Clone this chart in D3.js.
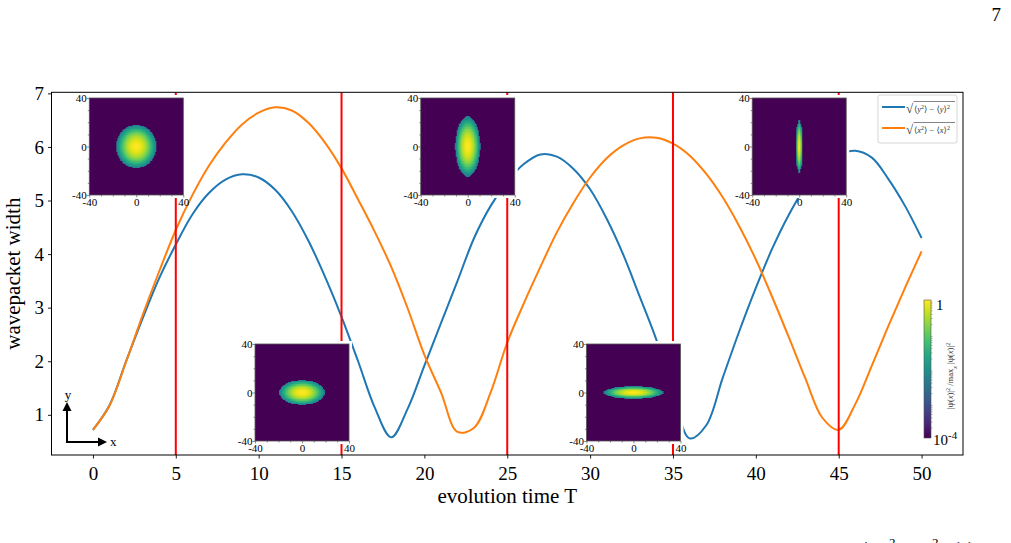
<!DOCTYPE html>
<html>
<head>
<meta charset="utf-8">
<script src="https://cdn.jsdelivr.net/npm/d3@7"></script>
<style>
  body { margin: 0; background: #fff; }
  svg { display: block; font-family: "Liberation Serif", "DejaVu Serif", serif; }
</style>
</head>
<body>
<div class="holder"></div>
<script>
"use strict";

// evolution time grid
const times = [0, 1, 2, 3, 4, 5, 6, 7, 8, 9, 10, 11, 12, 13, 14, 15, 16, 17, 18, 19, 20,
  21, 22, 23, 24, 25, 26, 27, 28, 29, 30, 31, 32, 33, 34, 35, 36, 37, 38, 39, 40,
  41, 42, 43, 44, 45, 46, 47, 48, 49, 50];

// sqrt(<y^2> - <y>^2), blue
const widthY = [0.72, 1.18, 2.0, 2.8, 3.55, 4.18, 4.74, 5.14, 5.39, 5.49, 5.43,
  5.2, 4.8, 4.25, 3.58, 2.83, 2.0, 1.14, 0.58, 1.12, 1.92,
  2.71, 3.5, 4.3, 4.9, 5.35, 5.68, 5.86, 5.82, 5.59, 5.21,
  4.66, 3.99, 3.2, 2.4, 1.45, 0.56, 0.8, 1.69, 2.56, 3.37,
  4.11, 4.74, 5.26, 5.62, 5.85, 5.93, 5.8, 5.4, 4.9, 4.3];

// sqrt(<x^2> - <x>^2), orange
const widthX = [0.72, 1.17, 1.99, 2.86, 3.68, 4.45, 5.1, 5.65, 6.08, 6.42, 6.64,
  6.74, 6.68, 6.45, 6.08, 5.6, 5.02, 4.42, 3.76, 2.98, 2.12,
  1.42, 0.68, 0.76, 1.42, 2.35, 3.08, 3.76, 4.41, 4.96, 5.43,
  5.79, 6.03, 6.16, 6.17, 6.06, 5.84, 5.5, 5.06, 4.52, 3.9,
  3.19, 2.44, 1.67, 0.95, 0.72, 1.2, 1.92, 2.66, 3.37, 4.05];

// snapshot times (red lines + insets) and blob half-extents in the insets
const snapTimes = [5, 15, 25, 35, 45];
const blobRx = [17, 19.4, 10.6, 25.5, 2.8];
const blobRy = [18, 10.2, 24.8, 5.2, 22.3];

const xTicks = [0, 5, 10, 15, 20, 25, 30, 35, 40, 45, 50];
const yTicks = [1, 2, 3, 4, 5, 6, 7];
const insetTicks = [-40, 0, 40];
const insetMinor = [-30, -20, -10, 10, 20, 30];

const w = 1011;
const h = 543;

const x = d3.scaleLinear().domain([-2.5, 52.5]).range([51.5, 963]);
const y = d3.scaleLinear().domain([0.25, 7.02]).range([455, 92.3]);
const viridis = d3.scaleSequentialLog(d3.interpolateViridis).domain([1e-4, 1]).clamp(true);

const svg = d3
  .select(".holder")
  .append("svg")
  .attr("width", w)
  .attr("height", h);

const defs = svg.append("defs");
defs
  .append("clipPath")
  .attr("id", "plot-clip")
  .append("rect")
  .attr("x", x.range()[0])
  .attr("y", y.range()[1])
  .attr("width", x.range()[1] - x.range()[0])
  .attr("height", y.range()[0] - y.range()[1]);

// page number
svg.append("text")
  .attr("x", 1001)
  .attr("y", 21)
  .attr("text-anchor", "end")
  .style("font-size", "19px")
  .text("7");

// axes
const xAxis = svg.append("g")
  .attr("transform", "translate(0," + y.range()[0] + ")")
  .call(d3.axisBottom(x).tickValues(xTicks).tickSize(3.5).tickPadding(8.5).tickSizeOuter(0)
    .tickFormat(d3.format("d")));
const yAxis = svg.append("g")
  .attr("transform", "translate(" + x.range()[0] + ",0)")
  .call(d3.axisLeft(y).tickValues(yTicks).tickSize(3.5).tickPadding(4).tickSizeOuter(0)
    .tickFormat(d3.format("d")));
[xAxis, yAxis].forEach((g) => {
  g.select(".domain").remove();
  g.selectAll("text").style("font-size", "19px").style("font-family", "Liberation Serif, serif");
  g.selectAll("line").attr("stroke", "#000").attr("stroke-width", 0.9);
});

svg.append("text")
  .attr("x", (x.range()[0] + x.range()[1]) / 2)
  .attr("y", 503)
  .attr("text-anchor", "middle")
  .style("font-size", "21px")
  .text("evolution time T");

svg.append("text")
  .attr("transform", "translate(20," + (y.range()[0] + y.range()[1]) / 2 + ") rotate(-90)")
  .attr("text-anchor", "middle")
  .style("font-size", "21px")
  .text("wavepacket width");

// curves
const plot = svg.append("g").attr("clip-path", "url(#plot-clip)");
const line = d3.line()
  .x((d, i) => x(times[i]))
  .y((d) => y(d))
  .curve(d3.curveCatmullRom.alpha(0.5));

plot.append("path")
  .datum(widthY)
  .attr("d", line)
  .attr("fill", "none")
  .attr("stroke", "#1f77b4")
  .attr("stroke-width", 2);
plot.append("path")
  .datum(widthX)
  .attr("d", line)
  .attr("fill", "none")
  .attr("stroke", "#ff7f0e")
  .attr("stroke-width", 2);

plot.selectAll("line.snap")
  .data(snapTimes)
  .enter()
  .append("line")
  .attr("class", "snap")
  .attr("x1", (d) => x(d))
  .attr("x2", (d) => x(d))
  .attr("y1", y.range()[1])
  .attr("y2", y.range()[0])
  .attr("stroke", "#ff0000")
  .attr("stroke-width", 2);

// frame
svg.append("rect")
  .attr("x", x.range()[0])
  .attr("y", y.range()[1])
  .attr("width", x.range()[1] - x.range()[0])
  .attr("height", y.range()[0] - y.range()[1])
  .attr("fill", "none")
  .attr("stroke", "#000")
  .attr("stroke-width", 1);

// insets with the density snapshots
const iw = 94;
const ih = 97;
const cutoff = 0.004;
const edgeK = Math.sqrt(2 * Math.log(1 / cutoff));

const blobImage = (rx, ry) => {
  const canvas = document.createElement("canvas");
  canvas.width = iw;
  canvas.height = ih;
  const ctx = canvas.getContext("2d");
  const img = ctx.createImageData(iw, ih);
  const gx = d3.scaleLinear().domain([0, iw]).range([-40, 40]);
  const gy = d3.scaleLinear().domain([0, ih]).range([40, -40]);
  const sx = rx / edgeK;
  const sy = ry / edgeK;
  for (let j = 0; j < ih; j++) {
    for (let i = 0; i < iw; i++) {
      const px = Math.round(gx(i + 0.5) * 2) / 2;
      const py = Math.round(gy(j + 0.5) * 2) / 2;
      let v = Math.exp(-(px * px / (2 * sx * sx) + py * py / (2 * sy * sy)));
      if (v < cutoff) v = 1e-4;
      const c = d3.rgb(viridis(v));
      const o = (j * iw + i) * 4;
      img.data[o] = c.r;
      img.data[o + 1] = c.g;
      img.data[o + 2] = c.b;
      img.data[o + 3] = 255;
    }
  }
  ctx.putImageData(img, 0, 0);
  return canvas.toDataURL();
};

snapTimes.forEach((t, k) => {
  const left = x(t) - 86.5;
  const top = k % 2 === 0 ? 98 : 344;
  const g = svg.append("g").attr("class", "inset");
  g.append("rect")
    .attr("x", left - 3)
    .attr("y", top - 3)
    .attr("width", iw + 6)
    .attr("height", ih + 6)
    .attr("fill", "#fff");
  g.append("image")
    .attr("x", left)
    .attr("y", top)
    .attr("width", iw)
    .attr("height", ih)
    .attr("preserveAspectRatio", "none")
    .attr("href", blobImage(blobRx[k], blobRy[k]));
  g.append("rect")
    .attr("x", left)
    .attr("y", top)
    .attr("width", iw)
    .attr("height", ih)
    .attr("fill", "none")
    .attr("stroke", "#555")
    .attr("stroke-width", 0.8);

  const sx = d3.scaleLinear().domain([-40, 40]).range([left, left + iw]);
  const sy = d3.scaleLinear().domain([-40, 40]).range([top + ih, top]);
  const ax = g.append("g")
    .attr("transform", "translate(0," + (top + ih) + ")")
    .call(d3.axisBottom(sx).tickValues(insetTicks).tickSize(2.5).tickPadding(1).tickFormat((d) => String(d)));
  const ay = g.append("g")
    .attr("transform", "translate(" + left + ",0)")
    .call(d3.axisLeft(sy).tickValues(insetTicks).tickSize(2.5).tickPadding(0).tickFormat((d) => String(d)));
  const mx = g.append("g")
    .attr("transform", "translate(0," + (top + ih) + ")")
    .call(d3.axisBottom(sx).tickValues(insetMinor).tickSize(1.5).tickFormat(""));
  const my = g.append("g")
    .attr("transform", "translate(" + left + ",0)")
    .call(d3.axisLeft(sy).tickValues(insetMinor).tickSize(1.5).tickFormat(""));
  [ax, ay, mx, my].forEach((a) => {
    a.select(".domain").remove();
    a.selectAll("line").attr("stroke", "#444").attr("stroke-width", 0.6);
    a.selectAll("text").style("font-size", "11px").style("font-family", "Liberation Serif, serif");
  });
});

// legend
const legend = svg.append("g");
legend.append("rect")
  .attr("x", 878)
  .attr("y", 95)
  .attr("width", 79)
  .attr("height", 48)
  .attr("rx", 2)
  .attr("fill", "#fff")
  .attr("fill-opacity", 0.8)
  .attr("stroke", "#ccc")
  .attr("stroke-width", 0.8);

const legendItems = [
  { color: "#1f77b4", v: "y", yy: 107 },
  { color: "#ff7f0e", v: "x", yy: 128 }
];
legendItems.forEach((it) => {
  legend.append("line")
    .attr("x1", 882).attr("x2", 905)
    .attr("y1", it.yy).attr("y2", it.yy)
    .attr("stroke", it.color)
    .attr("stroke-width", 2);
  legend.append("text")
    .attr("x", 906)
    .attr("y", it.yy + 6)
    .style("font-size", "13px")
    .style("fill", "#333")
    .text("\u221A");
  legend.append("line")
    .attr("x1", 913.5).attr("x2", 955)
    .attr("y1", it.yy - 5.5).attr("y2", it.yy - 5.5)
    .attr("stroke", "#333")
    .attr("stroke-width", 0.6);
  const t = legend.append("text")
    .attr("x", 914)
    .attr("y", it.yy + 5)
    .style("font-size", "8.5px")
    .style("fill", "#333");
  t.append("tspan").text("\u27E8");
  t.append("tspan").style("font-style", "italic").text(it.v);
  t.append("tspan").attr("dy", -3).style("font-size", "6px").text("2");
  t.append("tspan").attr("dy", 3).text("\u27E9 \u2212 \u27E8");
  t.append("tspan").style("font-style", "italic").text(it.v);
  t.append("tspan").text("\u27E9");
  t.append("tspan").attr("dy", -3).style("font-size", "6px").text("2");
});

// colorbar
const cb = { x: 924, y: 300, w: 7, h: 138 };
const grad = defs.append("linearGradient")
  .attr("id", "viridis-grad")
  .attr("x1", "0%").attr("y1", "100%")
  .attr("x2", "0%").attr("y2", "0%");
grad.selectAll("stop")
  .data(d3.range(0, 1.0001, 0.1))
  .enter()
  .append("stop")
  .attr("offset", (d) => d * 100 + "%")
  .attr("stop-color", (d) => d3.interpolateViridis(d));
svg.append("rect")
  .attr("x", cb.x).attr("y", cb.y)
  .attr("width", cb.w).attr("height", cb.h)
  .attr("fill", "url(#viridis-grad)")
  .attr("stroke", "#555")
  .attr("stroke-width", 0.6);

const cbScale = d3.scaleLog().domain([1e-4, 1]).range([cb.y + cb.h, cb.y]);
const cbMinor = [];
[1e-4, 1e-3, 1e-2, 1e-1].forEach((dec) => {
  [2, 3, 4, 5, 6, 7, 8, 9].forEach((m) => cbMinor.push(dec * m));
});
svg.append("g")
  .attr("transform", "translate(" + (cb.x + cb.w) + ",0)")
  .call(d3.axisRight(cbScale).tickValues(cbMinor).tickSize(1.5).tickFormat(""))
  .call((g) => g.select(".domain").remove())
  .selectAll("line").attr("stroke", "#666").attr("stroke-width", 0.5);
svg.append("text")
  .attr("x", 936)
  .attr("y", cbScale(1) + 10)
  .style("font-size", "15px")
  .text("1");
const low = svg.append("text")
  .attr("x", 933)
  .attr("y", cbScale(1e-4) + 7)
  .style("font-size", "15px");
low.append("tspan").text("10");
low.append("tspan").attr("dy", -6).style("font-size", "11px").text("-4");

const cbl = svg.append("text")
  .attr("transform", "translate(953,376) rotate(-90)")
  .attr("text-anchor", "middle")
  .style("font-size", "8.5px")
  .style("fill", "#333");
cbl.append("tspan").text("|\u03C8(");
cbl.append("tspan").style("font-style", "italic").text("x");
cbl.append("tspan").text(")|");
cbl.append("tspan").attr("dy", -3).style("font-size", "6px").text("2");
cbl.append("tspan").attr("dy", 3).text(" /max");
cbl.append("tspan").attr("dy", 4).style("font-size", "6px").style("font-style", "italic").text("x");
cbl.append("tspan").attr("dy", -4).text(" |\u03C8(");
cbl.append("tspan").style("font-style", "italic").text("x");
cbl.append("tspan").text(")|");
cbl.append("tspan").attr("dy", -3).style("font-size", "6px").text("2");

// orientation arrows
const arrows = svg.append("g");
arrows.append("line")
  .attr("x1", 67).attr("y1", 442).attr("x2", 67).attr("y2", 410)
  .attr("stroke", "#000").attr("stroke-width", 2);
arrows.append("path")
  .attr("d", "M62.5,411 L67,402 L71.5,411 Z")
  .attr("fill", "#000");
arrows.append("line")
  .attr("x1", 66).attr("y1", 442).attr("x2", 99).attr("y2", 442)
  .attr("stroke", "#000").attr("stroke-width", 2);
arrows.append("path")
  .attr("d", "M98,437.5 L107,442 L98,446.5 Z")
  .attr("fill", "#000");
arrows.append("text")
  .attr("x", 68).attr("y", 399)
  .attr("text-anchor", "middle")
  .style("font-size", "13px")
  .text("y");
arrows.append("text")
  .attr("x", 110).attr("y", 446)
  .style("font-size", "13px")
  .text("x");

// caption, cut off at the page bottom
const cap = svg.append("g").style("font-size", "19px");
const capGlyphs = [
  { s: "(", gx: 861, gy: 555, fs: 19 },
  { s: "x", gx: 872, gy: 555, fs: 19 },
  { s: "2", gx: 889, gy: 547, fs: 13 },
  { s: "\u2212", gx: 902, gy: 555, fs: 19 },
  { s: "y", gx: 918, gy: 555, fs: 19 },
  { s: "2", gx: 932, gy: 547, fs: 13 },
  { s: ")", gx: 957, gy: 555, fs: 19 },
  { s: ")", gx: 968, gy: 555, fs: 19 }
];
capGlyphs.forEach((c) => {
  cap.append("text")
    .attr("x", c.gx)
    .attr("y", c.gy)
    .style("font-size", c.fs + "px")
    .text(c.s);
});
</script>
</body>
</html>
